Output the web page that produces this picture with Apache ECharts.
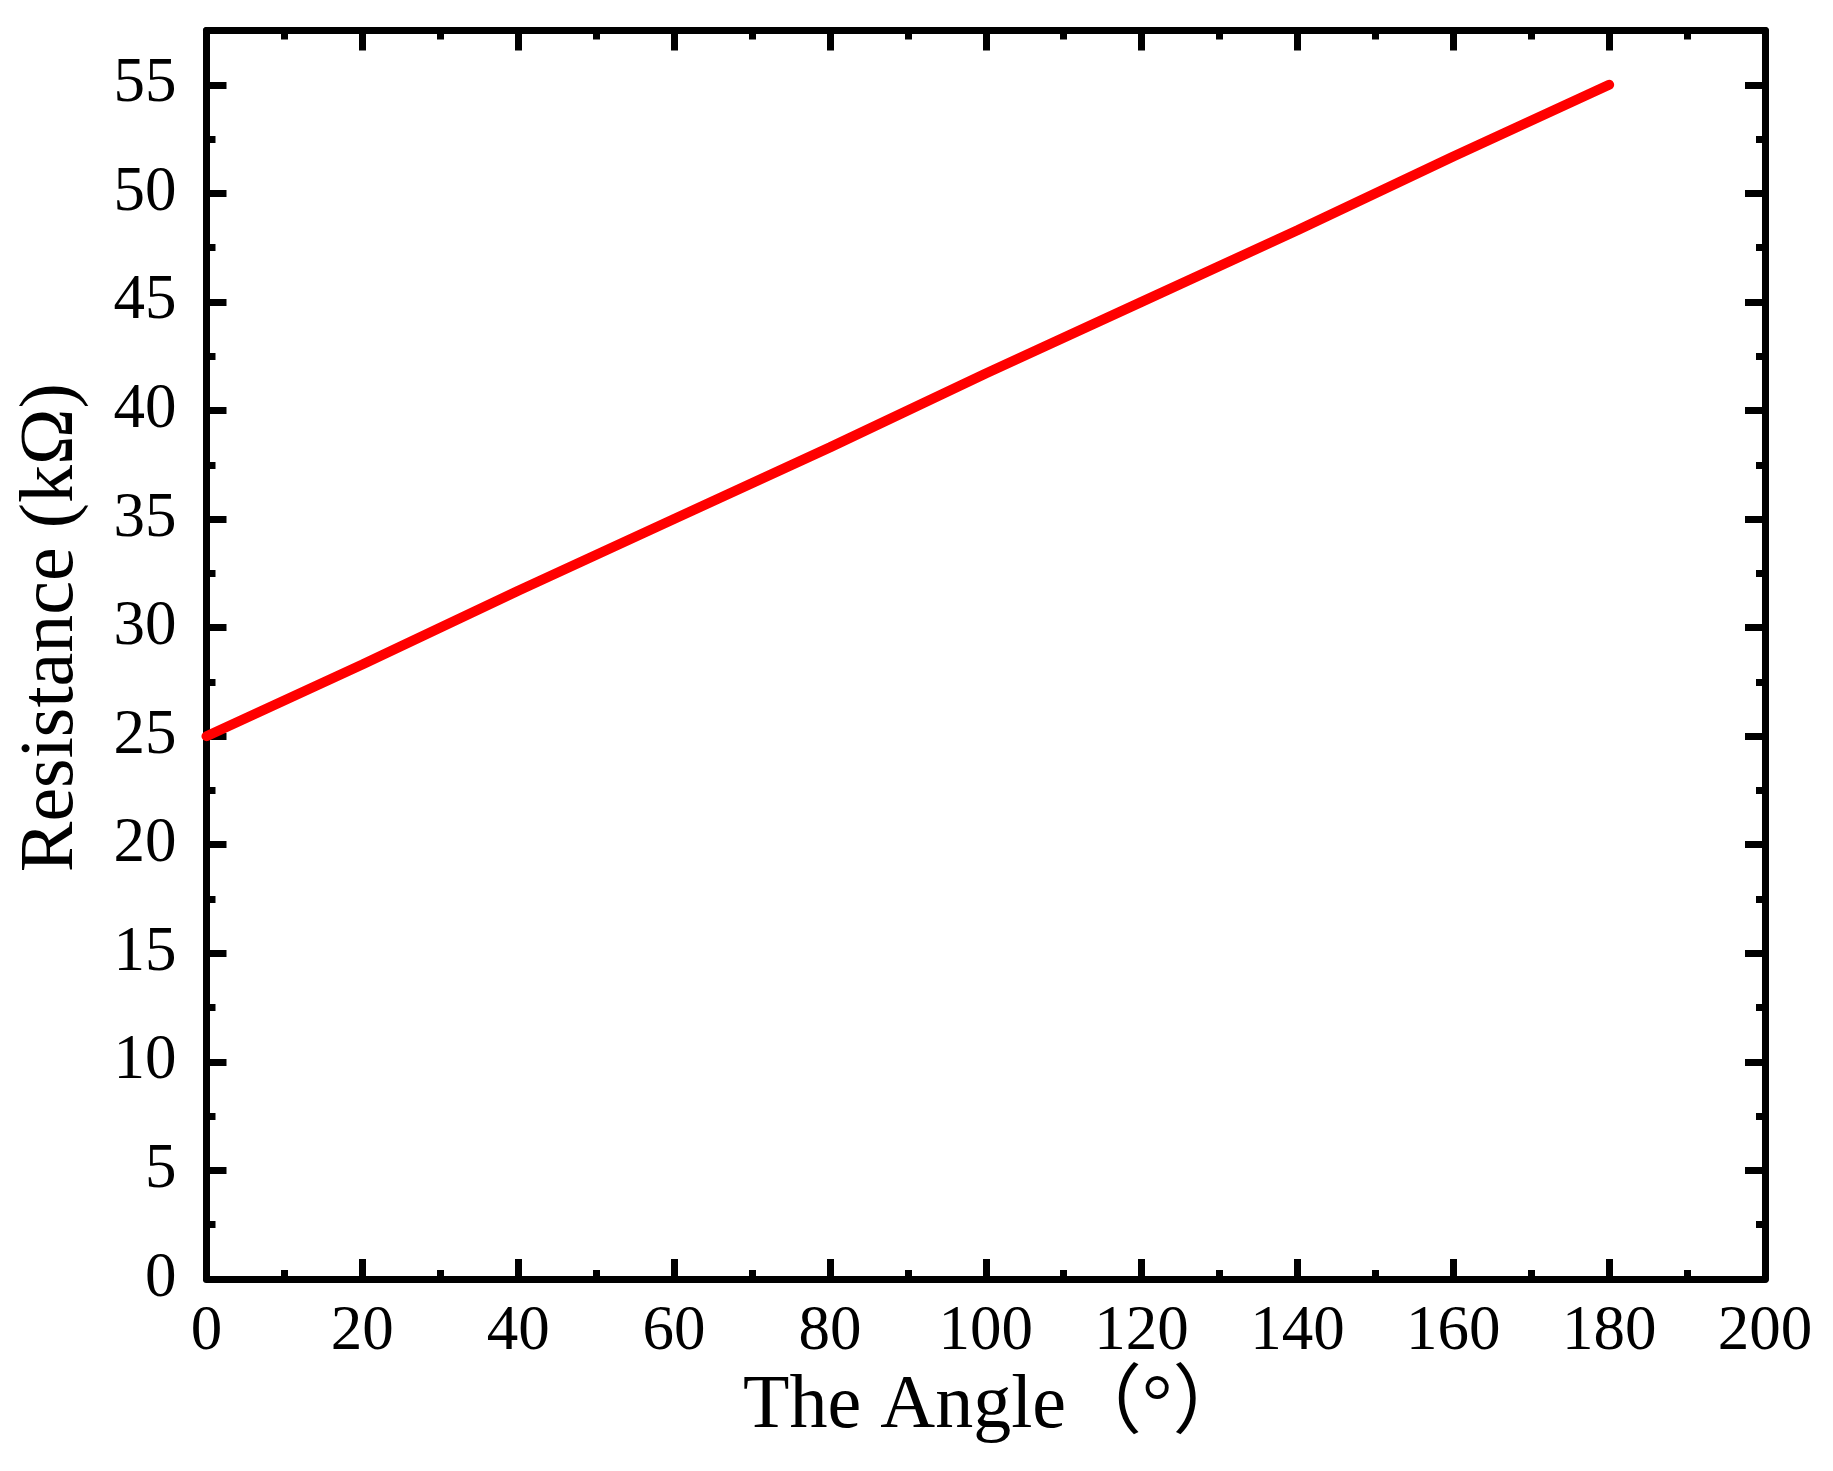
<!DOCTYPE html>
<html>
<head>
<meta charset="utf-8">
<script src="https://cdn.jsdelivr.net/npm/echarts@6/dist/echarts.min.js"></script>
<style>
html,body{margin:0;padding:0;background:#fff;}
#chart{width:1833px;height:1471px;}
</style>
</head>
<body>
<div id="chart"></div>
<script>
// Data
const angles = [0, 20, 40, 60, 80, 100, 120, 140, 160, 180];
const resistance = [25, 28.3, 31.7, 35, 38.3, 41.7, 45, 48.3, 51.7, 55];
const xTitle = 'The Angle（°）';
const yTitle = 'Resistance (kΩ)';

const FONT = "'Liberation Serif', 'Times New Roman', 'Noto Sans CJK SC', serif";
const seriesData = angles.map((a, i) => [a, resistance[i]]);

const axisLine = { show: true, onZero: false, lineStyle: { color: '#000', width: 7 } };
const tick = { show: true, inside: true, length: 20, lineStyle: { color: '#000', width: 7 } };
const minorTick = { show: true, splitNumber: 2, length: 9, lineStyle: { color: '#000', width: 7 } };

const chart = echarts.init(document.getElementById('chart'));
chart.setOption({
  backgroundColor: '#fff',
  animation: false,
  grid: { left: 206.5, right: 68, top: 30.5, bottom: 192, containLabel: false, outerBoundsMode: 'none' },
  xAxis: [
    {
      type: 'value', position: 'bottom', min: 0, max: 200, interval: 20,
      axisLine: axisLine, axisTick: tick, minorTick: minorTick,
      splitLine: { show: false }, minorSplitLine: { show: false },
      axisLabel: { show: true, margin: 22, color: '#000', fontSize: 63, fontFamily: FONT },
      name: xTitle, nameLocation: 'middle', nameGap: 90,
      nameTextStyle: { color: '#000', fontSize: 76, fontFamily: FONT, padding: [0, 0, 0, 20] }
    },
    {
      type: 'value', position: 'top', min: 0, max: 200, interval: 20,
      axisLine: axisLine, axisTick: tick, minorTick: minorTick,
      splitLine: { show: false }, axisLabel: { show: false }
    }
  ],
  yAxis: [
    {
      type: 'value', position: 'left', min: 0, max: 57.5, interval: 5,
      axisLine: axisLine, axisTick: tick, minorTick: minorTick,
      splitLine: { show: false }, minorSplitLine: { show: false },
      axisLabel: {
        show: true, margin: 30, color: '#000', fontSize: 63, fontFamily: FONT,
        showMaxLabel: false
      },
      name: yTitle, nameLocation: 'middle', nameGap: 116, nameRotate: 90,
      nameTextStyle: { color: '#000', fontSize: 76, fontFamily: FONT, padding: [0, 0, 0, 54] }
    },
    {
      type: 'value', position: 'right', min: 0, max: 57.5, interval: 5,
      axisLine: axisLine, axisTick: tick, minorTick: minorTick,
      splitLine: { show: false }, axisLabel: { show: false }
    }
  ],
  series: [
    {
      type: 'line', xAxisIndex: 0, yAxisIndex: 0,
      data: seriesData, showSymbol: false, symbol: 'none',
      lineStyle: { color: '#ff0000', width: 10, cap: 'round' },
      z: 1
    }
  ]
});
</script>
</body>
</html>
